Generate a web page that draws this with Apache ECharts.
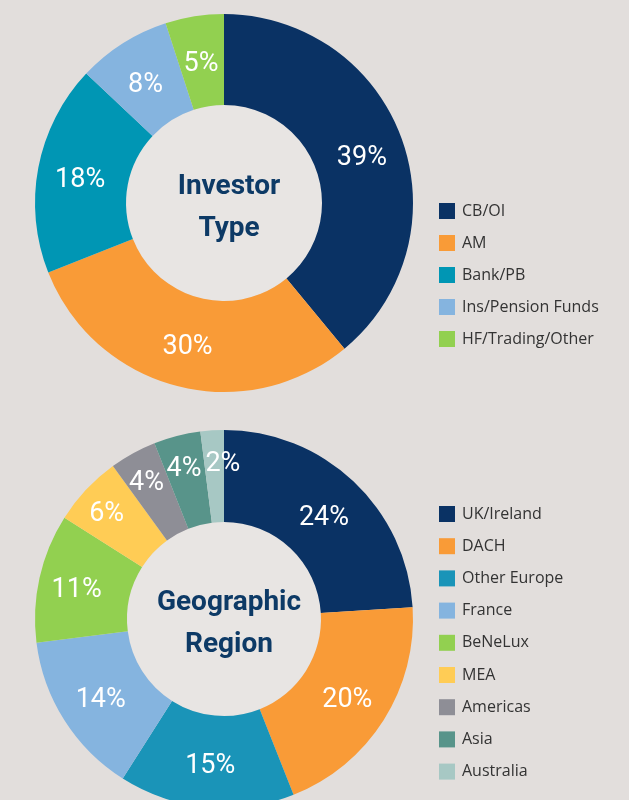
<!DOCTYPE html>
<html>
<head>
<meta charset="utf-8">
<script src="https://cdn.jsdelivr.net/npm/echarts@6/dist/echarts.min.js"></script>
<style>
  html, body { margin: 0; padding: 0; background: #e2dedc; }
  #main { width: 629px; height: 800px; }
</style>
</head>
<body>
<div id="main"></div>
<script>
// investor type donut
var investorNames = ['CB/OI', 'AM', 'Bank/PB', 'Ins/Pension Funds', 'HF/Trading/Other']
var investorValues = [39, 30, 18, 8, 5]
var investorColors = ['#0a3264', '#f99b37', '#0096b4', '#85b4df', '#92d050']

// geographic region donut
var regionNames = ['UK/Ireland', 'DACH', 'Other Europe', 'France', 'BeNeLux', 'MEA', 'Americas', 'Asia', 'Australia']
var regionValues = [24, 20, 15, 14, 11, 6, 4, 4, 2]
var regionColors = ['#0a3264', '#f99b37', '#1a94b8', '#85b4df', '#92d050', '#ffcc55', '#8e8e96', '#58948a', '#a7c8c4']

var labelFont = 'Roboto, sans-serif'
var legendFont = '"Open Sans", "Noto Sans", sans-serif'
var centers = [[224, 203], [224, 619]]

function toData(names, values, colors) {
  return names.map(function (n, i) {
    return { name: n, value: values[i], itemStyle: { color: colors[i] } }
  })
}

// labels of the thin slices sit further out, like in the original
function pushOut(params) {
  var c = centers[params.seriesIndex]
  var r = params.labelRect
  var dx = r.x + r.width / 2 - c[0]
  var dy = r.y + r.height / 2 - c[1]
  var d = Math.sqrt(dx * dx + dy * dy) || 1
  var ux = dx / d
  var uy = dy / d
  var extra = 0
  var shiftX = 0
  if (params.seriesIndex === 1) {
    var v = regionValues[params.dataIndex]
    if (v <= 6) extra = 15
    else if (v <= 11) extra = 5
    if (v <= 2) shiftX = 9
  }
  return { dx: ux * extra + shiftX, dy: uy * extra + 4 - 2 * uy, hideOverlap: false }
}

var myChart = echarts.init(document.getElementById('main'))

var pieLabel = {
  position: 'inside',
  formatter: '{c}%',
  color: '#ffffff',
  fontFamily: labelFont,
  fontSize: 27,
}

var titleStyle = { fontFamily: labelFont, fontWeight: 'bold', fontSize: 28, lineHeight: 42, color: '#0d3a66' }

var option = {
  backgroundColor: '#e2dedc',
  animation: false,
  title: [
    { text: 'Investor\nType', left: 224, top: 161, textAlign: 'center', textStyle: titleStyle },
    { text: 'Geographic\nRegion', left: 224, top: 577, textAlign: 'center', textStyle: titleStyle },
  ],
  legend: [
    {
      orient: 'vertical',
      left: 439,
      top: 203,
      padding: 0,
      itemWidth: 16,
      itemHeight: 16,
      itemGap: 16,
      icon: 'rect',
      data: investorNames,
      textStyle: { fontFamily: legendFont, fontSize: 16, color: '#333333', padding: [0, 0, 0, 2] },
    },
    {
      orient: 'vertical',
      left: 439,
      top: 506,
      padding: 0,
      itemWidth: 16,
      itemHeight: 16,
      itemGap: 16.2,
      icon: 'rect',
      data: regionNames,
      textStyle: { fontFamily: legendFont, fontSize: 16, color: '#333333', padding: [0, 0, 0, 2] },
    },
  ],
  graphic: [
    { type: 'circle', shape: { cx: 224, cy: 203, r: 98 }, style: { fill: '#e8e5e3' }, z: -1 },
    { type: 'circle', shape: { cx: 224, cy: 619, r: 97 }, style: { fill: '#e8e5e3' }, z: -1 },
  ],
  series: [
    {
      name: 'Investor Type',
      type: 'pie',
      center: centers[0],
      radius: [98, 189],
      startAngle: 90,
      clockwise: true,
      avoidLabelOverlap: false,
      label: pieLabel,
      labelLine: { show: false },
      labelLayout: pushOut,
      emphasis: { disabled: true },
      data: toData(investorNames, investorValues, investorColors),
    },
    {
      name: 'Geographic Region',
      type: 'pie',
      center: centers[1],
      radius: [97, 189],
      startAngle: 90,
      clockwise: true,
      avoidLabelOverlap: false,
      label: pieLabel,
      labelLine: { show: false },
      labelLayout: pushOut,
      emphasis: { disabled: true },
      data: toData(regionNames, regionValues, regionColors),
    },
  ],
}

myChart.setOption(option)
</script>
</body>
</html>
